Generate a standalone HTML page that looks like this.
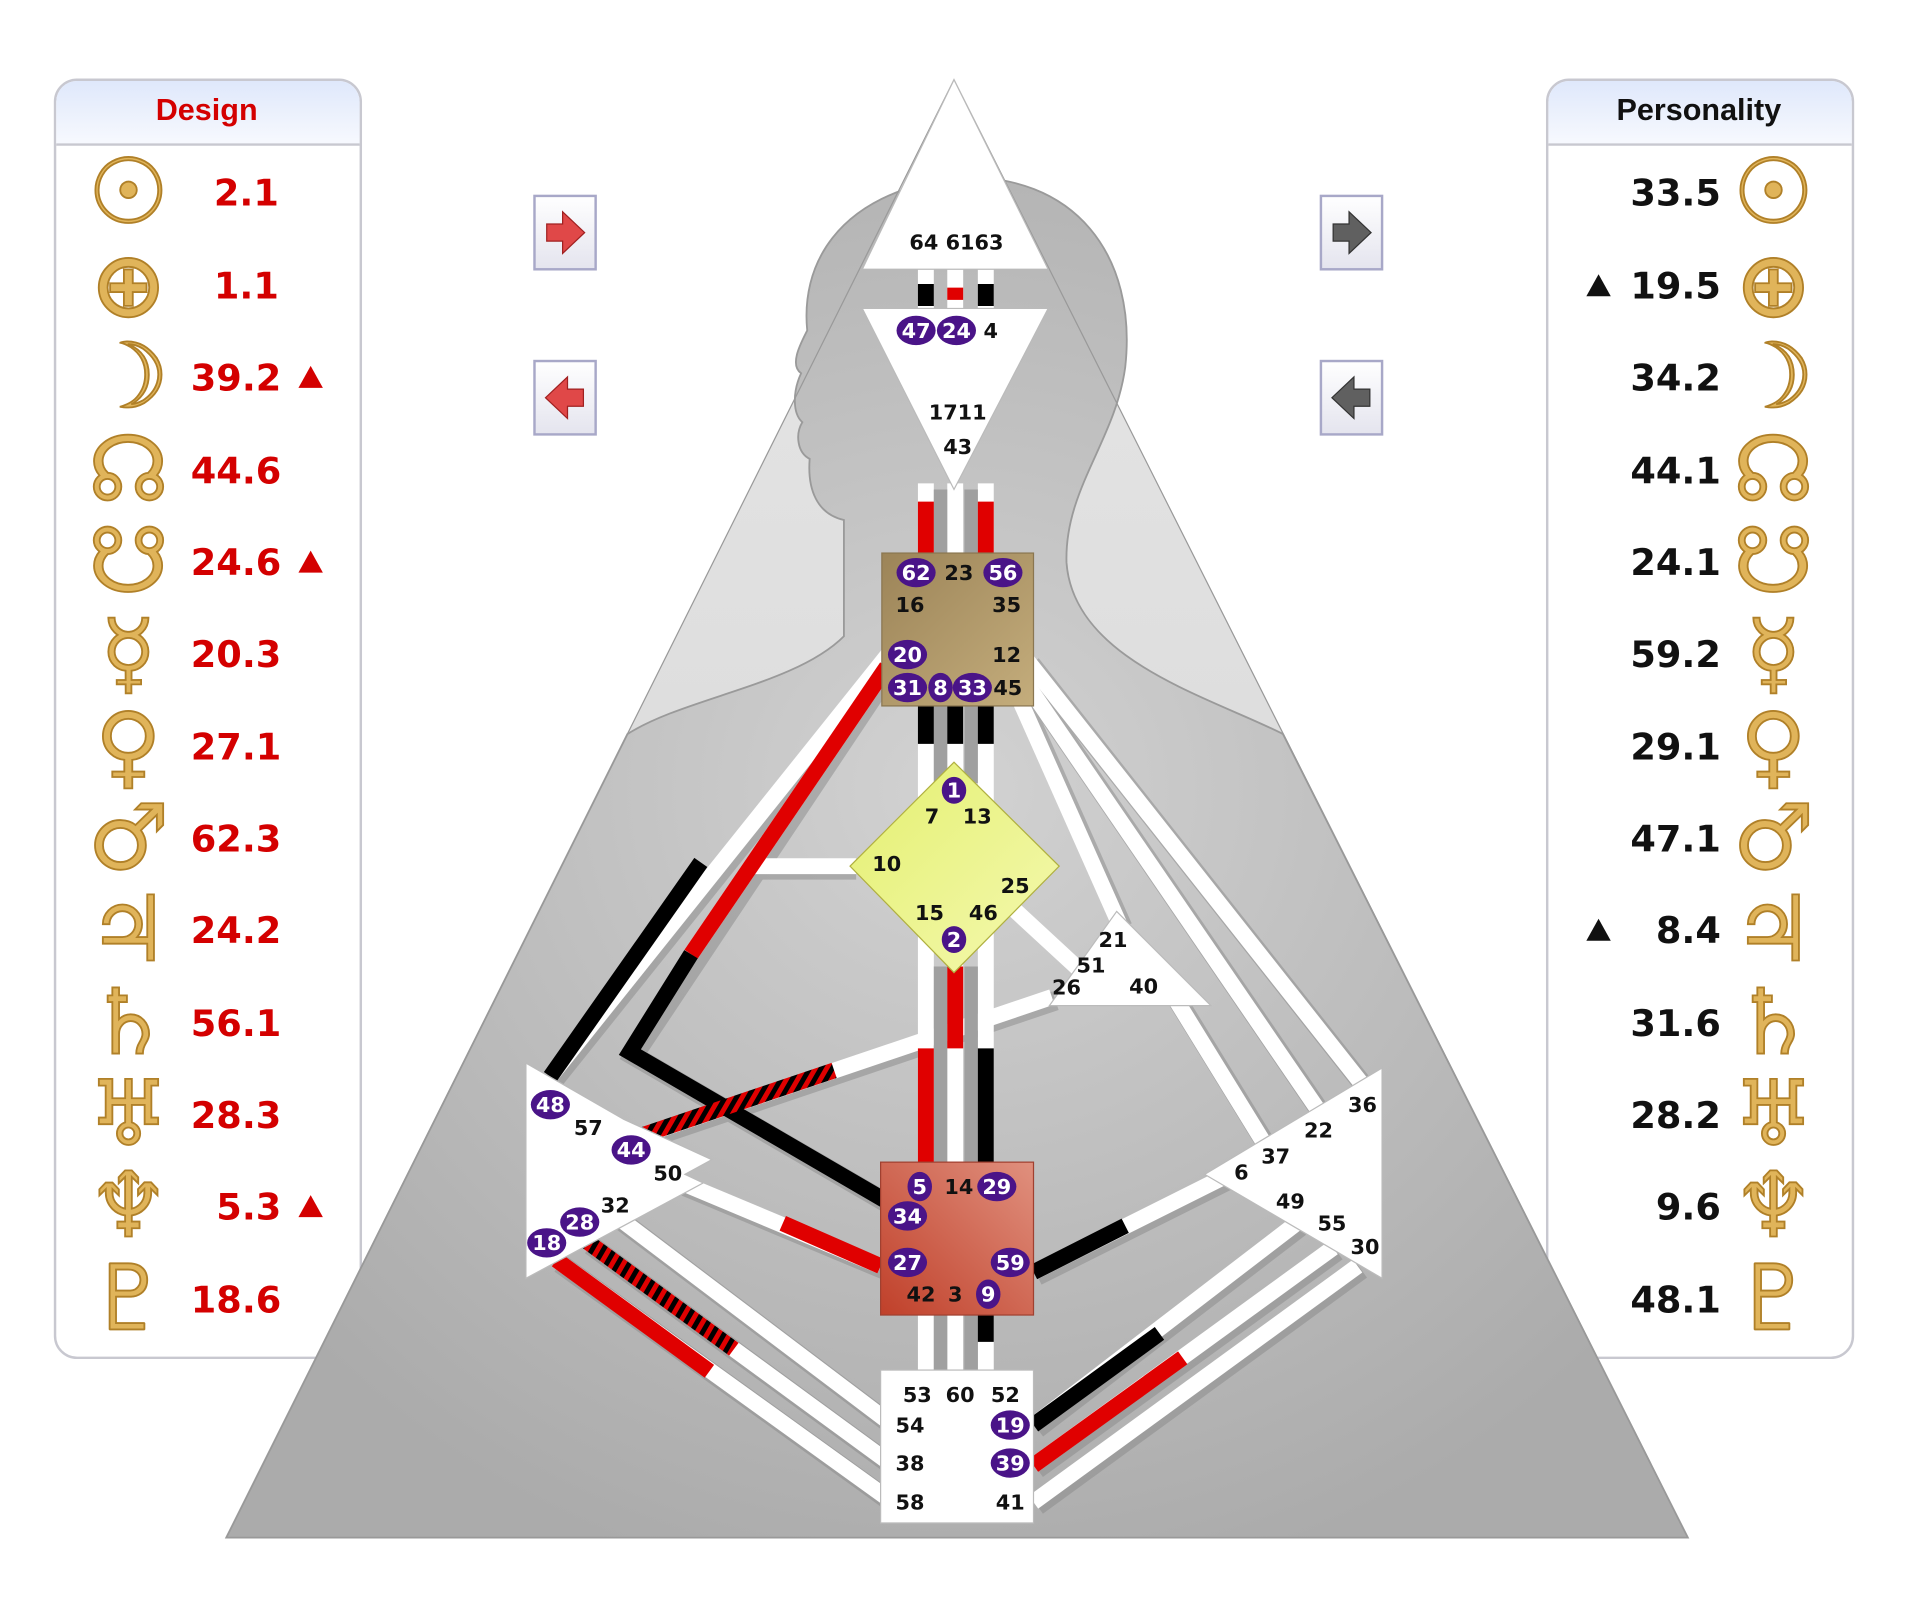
<!DOCTYPE html>
<html><head><meta charset="utf-8"><style>
html,body{margin:0;padding:0;background:#fff;width:1908px;height:1599px;overflow:hidden}
svg{display:block}
.g{font-family:"DejaVu Sans",sans-serif;font-weight:bold;font-size:17px;fill:#111}
.a{font-family:"DejaVu Sans",sans-serif;font-weight:bold;font-size:17px;fill:#fff}
.v{font-family:"DejaVu Sans",sans-serif;font-weight:bold;font-size:30px}
.p{font-family:"DejaVu Sans",sans-serif;font-size:74px;font-weight:bold;fill:#e0b45a;stroke:#b08028;stroke-width:1.5}
</style></head><body>
<svg width="1908" height="1599" viewBox="0 0 1560 1307" xmlns="http://www.w3.org/2000/svg">
<defs>
<linearGradient id="hd" x1="0" y1="0" x2="0" y2="1"><stop offset="0" stop-color="#dfe8fb"/><stop offset="1" stop-color="#f7f9fe"/></linearGradient>
<linearGradient id="tri" x1="0" y1="0" x2="0" y2="1"><stop offset="0" stop-color="#e6e6e6"/><stop offset="1" stop-color="#d4d4d4"/></linearGradient>
<radialGradient id="body" cx="0.5" cy="0.45" r="0.6"><stop offset="0" stop-color="#d2d2d2"/><stop offset="1" stop-color="#ababab"/></radialGradient>
<linearGradient id="thr" x1="0" y1="0" x2="1" y2="1"><stop offset="0" stop-color="#9c8458"/><stop offset="1" stop-color="#c4ad7c"/></linearGradient>
<linearGradient id="sac" x1="1" y1="0" x2="0" y2="1"><stop offset="0" stop-color="#e0907e"/><stop offset="1" stop-color="#c0402a"/></linearGradient>
<linearGradient id="gg" x1="0" y1="0" x2="1" y2="1"><stop offset="0" stop-color="#e4f070"/><stop offset="1" stop-color="#f4f8b0"/></linearGradient>
<pattern id="st" width="8" height="8" patternUnits="userSpaceOnUse" patternTransform="rotate(30)"><rect width="8" height="8" fill="#e00000"/><rect width="4" height="8" fill="#000"/></pattern>
<linearGradient id="btn" x1="0" y1="0" x2="0" y2="1"><stop offset="0" stop-color="#fff"/><stop offset="1" stop-color="#e4e4ee"/></linearGradient>
</defs>

<rect x="45" y="65" width="250" height="1045" rx="18" fill="#fff" stroke="#c8c8d0" stroke-width="2"/>
<path d="M46,118 V83 a17,17 0 0 1 17,-17 H277 a17,17 0 0 1 17,17 V118 Z" fill="url(#hd)"/>
<line x1="46" y1="118" x2="294" y2="118" stroke="#c8c8d0" stroke-width="2"/>
<text x="169" y="98" text-anchor="middle" font-family="Liberation Sans,sans-serif" font-weight="bold" font-size="25" fill="#d40000">Design</text>
<rect x="1265" y="65" width="250" height="1045" rx="18" fill="#fff" stroke="#c8c8d0" stroke-width="2"/>
<path d="M1266,118 V83 a17,17 0 0 1 17,-17 H1497 a17,17 0 0 1 17,17 V118 Z" fill="url(#hd)"/>
<line x1="1266" y1="118" x2="1514" y2="118" stroke="#c8c8d0" stroke-width="2"/>
<text x="1389" y="98" text-anchor="middle" font-family="Liberation Sans,sans-serif" font-weight="bold" font-size="25" fill="#111">Personality</text>

<g class="p" text-anchor="middle">
<text x="105" y="182">☉</text><text x="105" y="258">⊕</text><text x="105" y="333">☽</text><text x="105" y="409">☊</text><text x="105" y="484">☋</text><text x="105" y="559">☿</text><text x="105" y="635">♀</text><text x="105" y="710">♂</text><text x="105" y="785">♃</text><text x="105" y="861">♄</text><text x="105" y="936">♅</text><text x="105" y="1011">♆</text><text x="105" y="1087">♇</text>
<text x="1450" y="182">☉</text><text x="1450" y="258">⊕</text><text x="1450" y="333">☽</text><text x="1450" y="409">☊</text><text x="1450" y="484">☋</text><text x="1450" y="559">☿</text><text x="1450" y="635">♀</text><text x="1450" y="710">♂</text><text x="1450" y="785">♃</text><text x="1450" y="861">♄</text><text x="1450" y="936">♅</text><text x="1450" y="1011">♆</text><text x="1450" y="1087">♇</text>
</g>
<g class="v" fill="#d40000" text-anchor="end">
<text x="228" y="168">2.1</text><text x="228" y="244">1.1</text><text x="230" y="319">39.2</text><text x="230" y="395">44.6</text><text x="230" y="470">24.6</text><text x="230" y="545">20.3</text><text x="230" y="621">27.1</text><text x="230" y="696">62.3</text><text x="230" y="771">24.2</text><text x="230" y="847">56.1</text><text x="230" y="922">28.3</text><text x="230" y="997">5.3</text><text x="230" y="1073">18.6</text>
</g>
<g fill="#d40000"><path d="M244,317 l10,-18 l10,18z"/><path d="M244,468 l10,-18 l10,18z"/><path d="M244,995 l10,-18 l10,18z"/></g>
<g class="v" fill="#111" text-anchor="end">
<text x="1407" y="168">33.5</text><text x="1407" y="244">19.5</text><text x="1407" y="319">34.2</text><text x="1407" y="395">44.1</text><text x="1407" y="470">24.1</text><text x="1407" y="545">59.2</text><text x="1407" y="621">29.1</text><text x="1407" y="696">47.1</text><text x="1407" y="771">8.4</text><text x="1407" y="847">31.6</text><text x="1407" y="922">28.2</text><text x="1407" y="997">9.6</text><text x="1407" y="1073">48.1</text>
</g>
<g fill="#111"><path d="M1297,242 l10,-18 l10,18z"/><path d="M1297,769 l10,-18 l10,18z"/></g>

<path d="M780,65 L1380,1257 L185,1257 Z" fill="url(#tri)"/>
<path d="M513,600 C560,570 650,560 690,520 L690,425 C668,420 660,400 662,375 C652,370 650,355 656,345 C648,338 648,320 655,305 C645,298 655,280 660,270 C655,220 680,160 780,145 C880,140 930,210 920,300 C912,360 870,400 872,460 C878,540 990,570 1049,600 L1380,1257 L185,1257 Z" fill="url(#body)" stroke="#9a9a9a" stroke-width="1.5"/>
<path d="M780,65 L1380,1257 L185,1257 Z" fill="none" stroke="#999" stroke-width="1"/>

<g stroke="#a8a8c8" stroke-width="2" fill="url(#btn)">
<rect x="437" y="160" width="50" height="60"/><rect x="437" y="295" width="50" height="60"/>
<rect x="1080" y="160" width="50" height="60"/><rect x="1080" y="295" width="50" height="60"/></g>
<path d="M447,183 h13 v-10 l18,17 l-18,17 v-10 h-13z" fill="#e04848" stroke="#a02020"/>
<path d="M477,318 h-13 v-10 l-18,17 l18,17 v-10 h13z" fill="#e04848" stroke="#a02020"/>
<path d="M1090,183 h13 v-10 l18,17 l-18,17 v-10 h-13z" fill="#606060" stroke="#333"/>
<path d="M1120,318 h-13 v-10 l-18,17 l18,17 v-10 h13z" fill="#606060" stroke="#333"/>

<g stroke="#8a8a8a" stroke-width="16" fill="none" opacity="0.5" transform="translate(3,3)">
<path d="M730,530 L450,880"/><path d="M725,545 L515,860 L730,985"/><path d="M520,930 L860,815"/><path d="M548,963 L720,1035"/>
<path d="M455,1030 L730,1228"/><path d="M480,1015 L730,1198"/><path d="M505,995 L730,1165"/>
<path d="M845,1228 L1110,1035"/><path d="M845,1198 L1090,1020"/><path d="M845,1165 L1060,1000"/>
<path d="M845,1040 L1005,960"/><path d="M840,540 L1115,888"/><path d="M840,560 L1085,918"/><path d="M835,575 L915,755"/>
<path d="M960,815 L1040,945"/><path d="M620,708 L697,708"/>
</g>
<g stroke="#fff" stroke-width="13" fill="none">
<path d="M730,530 L450,880"/><path d="M725,545 L565,780 L515,860 L730,985"/><path d="M520,930 L860,815"/><path d="M548,963 L720,1035"/>
<path d="M455,1030 L730,1228"/><path d="M480,1015 L730,1198"/><path d="M505,995 L730,1165"/>
<path d="M845,1228 L1110,1035"/><path d="M845,1198 L1090,1020"/><path d="M845,1165 L1060,1000"/>
<path d="M845,1040 L1005,960"/><path d="M840,540 L1115,888"/><path d="M840,560 L1085,918"/><path d="M835,575 L915,755"/>
<path d="M820,735 L885,795"/>
<path d="M960,815 L1040,945"/><path d="M615,708 L700,708"/>
<path d="M757,215 V255 M781,215 V255 M806,215 V255"/>
<path d="M757,395 V455 M781,395 V455 M806,395 V455"/>
<path d="M757,575 V1125 M781,575 V1125 M806,575 V1125"/>
</g>
<g stroke="#a0a0a0" stroke-width="11"><path d="M769,400 V455 M794,400 V455 M769,575 V640 M794,575 V640 M769,790 V1125 M794,790 V1125"/></g>
<g stroke="#fff" stroke-width="12"><path d="M757,575 V1125 M781,575 V1125 M806,575 V1125"/></g>
<g fill="none" stroke-width="13">
<path d="M757,232 V250 M806,232 V250" stroke="#000"/>
<path d="M781,235 V245" stroke="#e00000"/>
<path d="M757,410 V455 M806,410 V455" stroke="#e00000"/>
<path d="M757,575 V608 M781,575 V608 M806,575 V608" stroke="#000"/>
<path d="M781,790 V857" stroke="#e00000"/>
<path d="M757,857 V952" stroke="#e00000"/>
<path d="M806,857 V952" stroke="#000"/>
<path d="M806,1075 V1097" stroke="#000"/>
<path d="M573,705 L450,880" stroke="#000"/>
<path d="M725,545 L565,780" stroke="#e00000"/>
<path d="M565,780 L515,860 L730,985" stroke="#000"/>
<path d="M525,928 L682,875" stroke="url(#st)"/>
<path d="M640,1000 L720,1035" stroke="#e00000"/>
<path d="M455,1030 L580,1121" stroke="#e00000"/>
<path d="M480,1015 L600,1103" stroke="url(#st)"/>
<path d="M845,1165 L948,1090" stroke="#000"/>
<path d="M845,1198 L967,1110" stroke="#e00000"/>
<path d="M845,1040 L920,1002" stroke="#000"/>
</g>

<path d="M780,65 L857,220 L705,220 Z" fill="#fff" stroke="#bbb"/>
<path d="M705,252 L857,252 L780,400 Z" fill="#fff" stroke="#bbb"/>
<rect x="721" y="452" width="124" height="125" fill="url(#thr)" stroke="#8a7650"/>
<path d="M780,623 L866,708 L780,795 L695,708 Z" fill="url(#gg)" stroke="#b0b040"/>
<path d="M913,745 L990,822 L858,822 Z" fill="#fff" stroke="#bbb"/>
<path d="M430,869 L510,915 L582,948 L560,960 L575,967 L430,1045 Z" fill="#fff" stroke="#bbb"/>
<path d="M1130,873 L1130,1045 L985,960 Z" fill="#fff" stroke="#bbb"/>
<rect x="720" y="950" width="125" height="125" fill="url(#sac)" stroke="#a04030"/>
<rect x="720" y="1120" width="125" height="125" fill="#fff" stroke="#bbb"/>

<g fill="#4a1488">
<ellipse cx="749" cy="270" rx="16" ry="12"/><ellipse cx="782" cy="270" rx="16" ry="12"/>
<ellipse cx="749" cy="468" rx="16" ry="12"/><ellipse cx="820" cy="468" rx="16" ry="12"/>
<ellipse cx="742" cy="535" rx="16" ry="12"/><ellipse cx="742" cy="562" rx="16" ry="12"/><ellipse cx="769" cy="562" rx="10" ry="12"/><ellipse cx="795" cy="562" rx="16" ry="12"/>
<ellipse cx="780" cy="646" rx="10" ry="11"/><ellipse cx="780" cy="768" rx="10" ry="11"/>
<ellipse cx="450" cy="903" rx="16" ry="12"/><ellipse cx="516" cy="940" rx="16" ry="12"/><ellipse cx="474" cy="999" rx="16" ry="12"/><ellipse cx="447" cy="1016" rx="16" ry="12"/>
<ellipse cx="752" cy="970" rx="10" ry="12"/><ellipse cx="815" cy="970" rx="16" ry="12"/><ellipse cx="742" cy="994" rx="16" ry="12"/>
<ellipse cx="742" cy="1032" rx="16" ry="12"/><ellipse cx="826" cy="1032" rx="16" ry="12"/><ellipse cx="808" cy="1058" rx="10" ry="12"/>
<ellipse cx="826" cy="1165" rx="16" ry="12"/><ellipse cx="826" cy="1196" rx="16" ry="12"/>
</g>
<g class="a" text-anchor="middle">
<text x="749" y="276">47</text><text x="782" y="276">24</text>
<text x="749" y="474">62</text><text x="820" y="474">56</text>
<text x="742" y="541">20</text><text x="742" y="568">31</text><text x="769" y="568">8</text><text x="795" y="568">33</text>
<text x="780" y="652">1</text><text x="780" y="774">2</text>
<text x="450" y="909">48</text><text x="516" y="946">44</text><text x="474" y="1005">28</text><text x="447" y="1022">18</text>
<text x="752" y="976">5</text><text x="815" y="976">29</text><text x="742" y="1000">34</text>
<text x="742" y="1038">27</text><text x="826" y="1038">59</text><text x="808" y="1064">9</text>
<text x="826" y="1171">19</text><text x="826" y="1202">39</text>
</g>
<g class="g" text-anchor="middle">
<text x="782" y="204">64 6163</text><text x="810" y="276">4</text>
<text x="783" y="343">1711</text><text x="783" y="371">43</text>
<text x="784" y="474">23</text><text x="744" y="500">16</text><text x="823" y="500">35</text><text x="823" y="541">12</text><text x="824" y="568">45</text>
<text x="762" y="673">7</text><text x="799" y="673">13</text><text x="725" y="712">10</text><text x="830" y="730">25</text><text x="760" y="752">15</text><text x="804" y="752">46</text>
<text x="910" y="774">21</text><text x="892" y="795">51</text><text x="872" y="813">26</text><text x="935" y="812">40</text>
<text x="481" y="928">57</text><text x="546" y="965">50</text><text x="503" y="991">32</text>
<text x="784" y="976">14</text><text x="753" y="1064">42</text><text x="781" y="1064">3</text>
<text x="1114" y="909">36</text><text x="1078" y="930">22</text><text x="1043" y="951">37</text><text x="1015" y="964">6</text><text x="1055" y="988">49</text><text x="1089" y="1006">55</text><text x="1116" y="1025">30</text>
<text x="750" y="1146">53</text><text x="785" y="1146">60</text><text x="822" y="1146">52</text>
<text x="744" y="1171">54</text><text x="744" y="1202">38</text><text x="744" y="1234">58</text><text x="826" y="1234">41</text>
</g>
</svg>
</body></html>
